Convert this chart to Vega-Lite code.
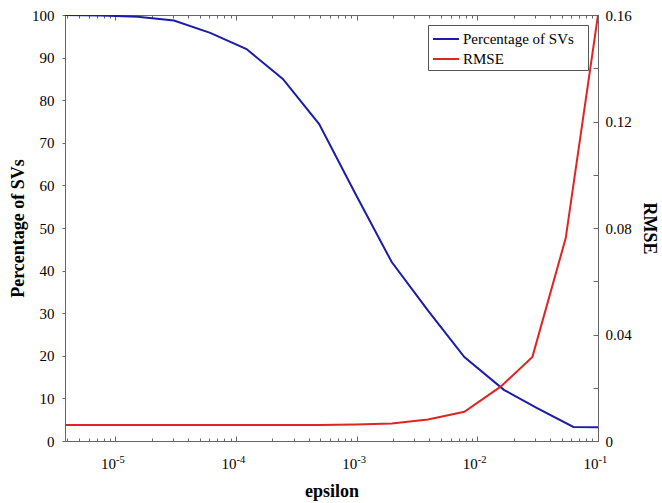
{
  "$schema": "https://vega.github.io/schema/vega-lite/v6.json",
  "width": 533,
  "height": 426,
  "autosize": {"type": "none"},
  "padding": {"left": 65, "top": 15, "right": 64, "bottom": 62},
  "background": "white",
  "config": {
    "view": {"stroke": "#666", "strokeWidth": 1},
    "font": "Liberation Serif",
    "axis": {
      "grid": false,
      "domainColor": "#666",
      "tickColor": "#666",
      "labelFont": "Liberation Serif",
      "labelFontSize": 15,
      "labelFontWeight": "normal",
      "labelColor": "#000",
      "titleFont": "Liberation Serif",
      "titleFontSize": 18,
      "titleFontWeight": "bold",
      "titleColor": "#000"
    }
  },
  "data": {
    "values": [
      {"series": "Percentage of SVs", "eps": 3.815e-6, "value": 100},
      {"series": "Percentage of SVs", "eps": 7.63e-6, "value": 99.9},
      {"series": "Percentage of SVs", "eps": 1.526e-5, "value": 99.6},
      {"series": "Percentage of SVs", "eps": 3.05e-5, "value": 98.7},
      {"series": "Percentage of SVs", "eps": 6.1e-5, "value": 95.8},
      {"series": "Percentage of SVs", "eps": 1.22e-4, "value": 92.0},
      {"series": "Percentage of SVs", "eps": 2.44e-4, "value": 85.0},
      {"series": "Percentage of SVs", "eps": 4.88e-4, "value": 74.4},
      {"series": "Percentage of SVs", "eps": 9.77e-4, "value": 58.0},
      {"series": "Percentage of SVs", "eps": 1.95e-3, "value": 42.0},
      {"series": "Percentage of SVs", "eps": 3.9e-3, "value": 30.6},
      {"series": "Percentage of SVs", "eps": 7.8e-3, "value": 19.7},
      {"series": "Percentage of SVs", "eps": 0.0166, "value": 12.0},
      {"series": "Percentage of SVs", "eps": 0.031, "value": 7.8},
      {"series": "Percentage of SVs", "eps": 0.0625, "value": 3.3},
      {"series": "Percentage of SVs", "eps": 0.1, "value": 3.25},
      {"series": "RMSE", "eps": 3.815e-6, "value": 0.006},
      {"series": "RMSE", "eps": 3.05e-5, "value": 0.006},
      {"series": "RMSE", "eps": 2.44e-4, "value": 0.006},
      {"series": "RMSE", "eps": 4.88e-4, "value": 0.006},
      {"series": "RMSE", "eps": 9.77e-4, "value": 0.0062},
      {"series": "RMSE", "eps": 1.95e-3, "value": 0.0066},
      {"series": "RMSE", "eps": 3.9e-3, "value": 0.0081},
      {"series": "RMSE", "eps": 7.8e-3, "value": 0.011},
      {"series": "RMSE", "eps": 0.0156, "value": 0.0204},
      {"series": "RMSE", "eps": 0.0286, "value": 0.0316},
      {"series": "RMSE", "eps": 0.054, "value": 0.0762},
      {"series": "RMSE", "eps": 0.1, "value": 0.16}
    ]
  },
  "layer": [
    {
      "transform": [{"filter": "datum.series === 'Percentage of SVs'"}],
      "mark": {"type": "line", "strokeWidth": 2, "clip": true},
      "encoding": {
        "x": {
          "field": "eps",
          "type": "quantitative",
          "scale": {"type": "log", "domain": [3.815e-6, 0.1], "nice": false},
          "axis": {
            "orient": "bottom",
            "title": "epsilon",
            "values": [4e-6, 5e-6, 6e-6, 7e-6, 8e-6, 9e-6, 1e-5, 2e-5, 3e-5, 4e-5, 5e-5, 6e-5, 7e-5, 8e-5, 9e-5, 1e-4, 2e-4, 3e-4, 4e-4, 5e-4, 6e-4, 7e-4, 8e-4, 9e-4, 1e-3, 2e-3, 3e-3, 4e-3, 5e-3, 6e-3, 7e-3, 8e-3, 9e-3, 1e-2, 2e-2, 3e-2, 4e-2, 5e-2, 6e-2, 7e-2, 8e-2, 9e-2, 1e-1],
            "labelExpr": "abs(log(datum.value)/LN10 - round(log(datum.value)/LN10)) < 0.01 ? '10' : ''",
            "labelFont": "Liberation Serif",
            "labelAlign": "right",
            "labelBaseline": "alphabetic",
            "labelFlush": false,
            "labelOverlap": false,
            "tickSize": {"condition": {"test": "abs(log(datum.value)/LN10 - round(log(datum.value)/LN10)) < 0.01", "value": -5}, "value": -3},
            "labelPadding": 32,
            "titlePadding": 9
          }
        },
        "y": {
          "field": "value",
          "type": "quantitative",
          "scale": {"domain": [0, 100], "nice": false},
          "axis": {
            "orient": "left",
            "title": "Percentage of SVs",
            "values": [0, 10, 20, 30, 40, 50, 60, 70, 80, 90, 100],
            "labelFont": "Liberation Serif",
            "tickSize": 3,
            "labelPadding": 8,
            "titlePadding": 4
          }
        },
        "color": {
          "field": "series",
          "type": "nominal",
          "scale": {"domain": ["Percentage of SVs", "RMSE"], "range": ["#1c1caa", "#e02424"]},
          "legend": {
            "title": null,
            "orient": "top-right",
            "offset": 10,
            "strokeColor": "#555",
            "fillColor": "white",
            "padding": 3,
            "symbolType": "M-1.3,0H1.3",
            "symbolSize": 400,
            "symbolStrokeWidth": 2,
            "symbolOffset": 4,
            "labelFont": "Liberation Serif",
            "labelFontSize": 15,
            "labelColor": "#000",
            "labelOffset": 6,
            "rowPadding": 1,
            "labelExpr": "datum.label + '\u2800'"
          }
        }
      }
    },
    {
      "transform": [{"filter": "datum.series === 'RMSE'"}],
      "mark": {"type": "line", "strokeWidth": 2, "clip": true},
      "encoding": {
        "x": {
          "field": "eps",
          "type": "quantitative",
          "scale": {"type": "log", "domain": [3.815e-6, 0.1], "nice": false},
          "axis": {
            "orient": "top",
            "title": null,
            "labels": false,
            "values": [4e-6, 5e-6, 6e-6, 7e-6, 8e-6, 9e-6, 1e-5, 2e-5, 3e-5, 4e-5, 5e-5, 6e-5, 7e-5, 8e-5, 9e-5, 1e-4, 2e-4, 3e-4, 4e-4, 5e-4, 6e-4, 7e-4, 8e-4, 9e-4, 1e-3, 2e-3, 3e-3, 4e-3, 5e-3, 6e-3, 7e-3, 8e-3, 9e-3, 1e-2, 2e-2, 3e-2, 4e-2, 5e-2, 6e-2, 7e-2, 8e-2, 9e-2, 1e-1],
            "tickSize": {"condition": {"test": "abs(log(datum.value)/LN10 - round(log(datum.value)/LN10)) < 0.01", "value": -5}, "value": -3}
          }
        },
        "y": {
          "field": "value",
          "type": "quantitative",
          "scale": {"domain": [0, 0.16], "nice": false},
          "axis": {
            "orient": "right",
            "title": "RMSE",
            "values": [0, 0.02, 0.04, 0.06, 0.08, 0.1, 0.12, 0.14, 0.16],
            "labelExpr": "round(datum.value*100) % 4 === 0 ? (datum.value === 0 ? '0' : format(datum.value, '.2f')) : ''",
            "labelFont": "Liberation Serif",
            "tickSize": -5,
            "labelPadding": 12,
            "titlePadding": 8
          }
        },
        "color": {"field": "series", "type": "nominal"}
      }
    },
    {
      "transform": [{"filter": "datum.series === 'Percentage of SVs'"}],
      "mark": {"type": "line", "strokeOpacity": 0},
      "encoding": {
        "x": {
          "field": "eps",
          "type": "quantitative",
          "scale": {"type": "log", "domain": [3.815e-6, 0.1], "nice": false},
          "axis": {
            "orient": "bottom",
            "title": null,
            "values": [1e-5, 1e-4, 1e-3, 1e-2, 1e-1],
            "labelExpr": "'-' + (-round(log(datum.value)/LN10))",
            "labelFont": "Liberation Serif",
            "labelFontSize": 10.5,
            "labelAlign": "left",
            "labelBaseline": "alphabetic",
            "labelDx": 1,
            "labelFlush": false,
            "labelOverlap": false,
            "ticks": false,
            "domain": false,
            "labelPadding": 21
          }
        },
        "y": {"field": "value", "type": "quantitative", "axis": null}
      }
    }
  ],
  "resolve": {"scale": {"y": "independent"}, "axis": {"x": "independent", "y": "independent"}}
}
